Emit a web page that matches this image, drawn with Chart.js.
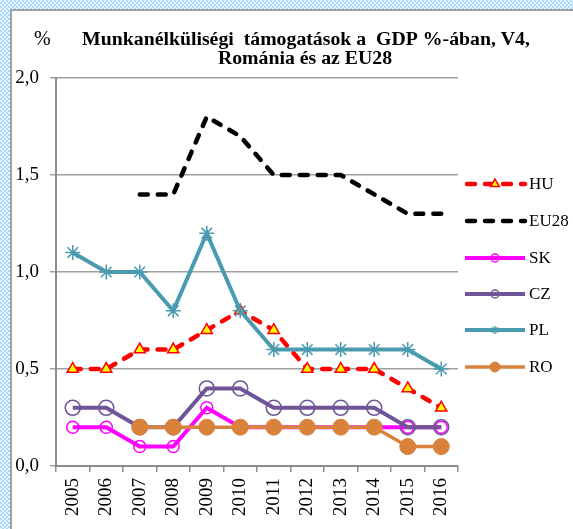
<!DOCTYPE html>
<html>
<head>
<meta charset="utf-8">
<script src="https://cdn.jsdelivr.net/npm/chart.js@4/dist/chart.umd.min.js"></script>
<style>
html,body{margin:0;padding:0;width:573px;height:529px;overflow:hidden;}
body{background:repeating-conic-gradient(#a9d8ff 0 25%, #e8f5ff 0 50%) 0 0/4px 4px;position:relative;}
#panel{position:absolute;left:10px;top:9px;width:600px;height:600px;background:#fff;border-left:2px solid #a0a0a0;border-top:2px solid #a0a0a0;}
#wrap{position:absolute;left:0;top:0;width:573px;height:529px;}
</style>
</head>
<body>
<div id="panel"></div>
<div id="wrap"><canvas id="c" width="573" height="529"></canvas></div>
<script>
const years = ['2005','2006','2007','2008','2009','2010','2011','2012','2013','2014','2015','2016'];
const HU   = [0.5,0.5,0.6,0.6,0.7,0.8,0.7,0.5,0.5,0.5,0.4,0.3];
const EU28 = [null,null,1.4,1.4,1.8,1.7,1.5,1.5,1.5,1.4,1.3,1.3];
const SK   = [0.2,0.2,0.1,0.1,0.3,0.2,0.2,0.2,0.2,0.2,0.2,0.2];
const CZ   = [0.3,0.3,0.2,0.2,0.4,0.4,0.3,0.3,0.3,0.3,0.2,0.2];
const PL   = [1.1,1.0,1.0,0.8,1.2,0.8,0.6,0.6,0.6,0.6,0.6,0.5];
const RO   = [null,null,0.2,0.2,0.2,0.2,0.2,0.2,0.2,0.2,0.1,0.1];
const yTicks = [0,0.5,1.0,1.5,2.0];
const titleLines = ['Munkanélküliségi  támogatások a  GDP %-ában, V4,','Románia és az EU28'];
const unitLabel = '%';

const SERIF = '"Liberation Serif","Times New Roman",serif';

const datasets = [
  {label:'HU', data:HU, borderColor:'#ff0000', borderWidth:4.5, borderDash:[8,10], borderCapStyle:'round',
   pointStyle:'triangle', pointRadius:6.5, pointBackgroundColor:'#ffff00', pointBorderColor:'#ff0000', pointBorderWidth:1.5, order:5,
   legendRadius:5},
  {label:'EU28', data:EU28, borderColor:'#000000', borderWidth:4.5, borderDash:[8,10], borderCapStyle:'round',
   pointStyle:false, pointRadius:0, order:4, legendRadius:0},
  {label:'SK', data:SK, borderColor:'#ff00ff', borderWidth:4,
   pointStyle:'circle', pointRadius:6, pointBackgroundColor:'rgba(0,0,0,0)', pointBorderColor:'#ff00ff', pointBorderWidth:1.5, order:3,
   legendRadius:4},
  {label:'CZ', data:CZ, borderColor:'#6f5597', borderWidth:4,
   pointStyle:'circle', pointRadius:7.5, pointBackgroundColor:'rgba(0,0,0,0)', pointBorderColor:'#6f5597', pointBorderWidth:1.5, order:2,
   legendRadius:4},
  {label:'PL', data:PL, borderColor:'#4a9bb0', borderWidth:4,
   pointStyle:'star', pointRadius:7.5, pointBackgroundColor:'rgba(0,0,0,0)', pointBorderColor:'#4a9bb0', pointBorderWidth:1.5, order:1,
   legendRadius:4},
  {label:'RO', data:RO, borderColor:'#d9823b', borderWidth:3.5,
   pointStyle:'circle', pointRadius:8, pointBackgroundColor:'#d9823b', pointBorderColor:'#d9823b', pointBorderWidth:1, order:0,
   legendRadius:5}
];

function drawMarker(ctx, style, x, y, r, fill, stroke, lw){
  if(!style || r<=0) return;
  ctx.save();
  ctx.setLineDash([]);
  ctx.lineWidth = lw; ctx.strokeStyle = stroke; ctx.fillStyle = fill;
  ctx.beginPath();
  if(style==='circle'){
    ctx.arc(x,y,r,0,Math.PI*2);
    ctx.fill(); ctx.stroke();
  } else if(style==='triangle'){
    ctx.moveTo(x, y - r);
    ctx.lineTo(x + Math.sin(2*Math.PI/3)*r, y - Math.cos(2*Math.PI/3)*r);
    ctx.lineTo(x + Math.sin(4*Math.PI/3)*r, y - Math.cos(4*Math.PI/3)*r);
    ctx.closePath(); ctx.fill(); ctx.stroke();
  } else if(style==='star'){
    for(let k=0;k<4;k++){
      const ang = k*Math.PI/4;
      ctx.moveTo(x - Math.sin(ang)*r, y - Math.cos(ang)*r);
      ctx.lineTo(x + Math.sin(ang)*r, y + Math.cos(ang)*r);
    }
    ctx.stroke();
  }
  ctx.restore();
}

const decorPlugin = {
  id:'decor',
  afterDraw(chart){
    const ctx = chart.ctx;
    ctx.save();
    // title
    ctx.fillStyle = '#000';
    ctx.font = 'bold 19.8px ' + SERIF;
    ctx.textAlign = 'center';
    ctx.textBaseline = 'alphabetic';
    ctx.fillText(titleLines[0], 306, 45);
    ctx.fillText(titleLines[1], 305, 63.5);
    ctx.font = '20px ' + SERIF;
    ctx.textAlign = 'left';
    ctx.fillText(unitLabel, 34, 45);
    // legend
    const x0 = 465, x1 = 525, tx = 529;
    const ys = [184, 221, 258, 294, 330, 367];
    chart.data.datasets.forEach((ds,i)=>{
      const y = ys[i];
      ctx.save();
      ctx.strokeStyle = ds.borderColor;
      ctx.lineWidth = ds.borderWidth;
      ctx.lineCap = ds.borderDash ? 'round' : 'butt';
      ctx.setLineDash(ds.borderDash || []);
      ctx.beginPath();
      if(ds.borderDash){ ctx.moveTo(x0+2, y); ctx.lineTo(x1, y); }
      else { ctx.moveTo(x0, y); ctx.lineTo(x1, y); }
      ctx.stroke();
      ctx.restore();
      drawMarker(ctx, ds.pointStyle, (x0+x1)/2, y, ds.legendRadius, ds.pointBackgroundColor, ds.pointBorderColor, ds.pointBorderWidth);
      ctx.fillStyle = '#000';
      ctx.font = '17px ' + SERIF;
      ctx.textAlign = 'left';
      ctx.textBaseline = 'middle';
      ctx.fillText(ds.label, tx, y+1);
    });
    ctx.restore();
  }
};

new Chart(document.getElementById('c'), {
  type:'line',
  data:{labels:years, datasets:datasets},
  options:{
    responsive:false,
    animation:false,
    devicePixelRatio:1,
    layout:{padding:{top:78, right:115, left:0, bottom:0}},
    elements:{line:{tension:0}},
    plugins:{legend:{display:false}, title:{display:false}, tooltip:{enabled:false}},
    scales:{
      x:{
        offset:true,
        grid:{display:true, drawOnChartArea:false, drawTicks:true, tickLength:6, color:'#8c8c8c', lineWidth:1.5, offset:true},
        border:{display:true, color:'#8c8c8c', width:2},
        ticks:{maxRotation:90, minRotation:90, autoSkip:false, padding:6, color:'#000', font:{family:SERIF, size:19}},
        afterFit(s){ s.height = 63; }
      },
      y:{
        min:0, max:2,
        afterBuildTicks(s){ s.ticks = yTicks.map(v=>({value:v})); },
        grid:{display:true, drawOnChartArea:true, drawTicks:true, tickLength:6, color:'#a0a0a0', lineWidth:1.5},
        border:{display:true, color:'#8c8c8c', width:2},
        ticks:{padding:11, color:'#000', font:{family:SERIF, size:19},
          callback:(v)=>Number(v).toFixed(1).replace('.',',')},
        afterFit(s){ s.width = 56; }
      }
    }
  },
  plugins:[decorPlugin]
});
</script>
</body>
</html>
